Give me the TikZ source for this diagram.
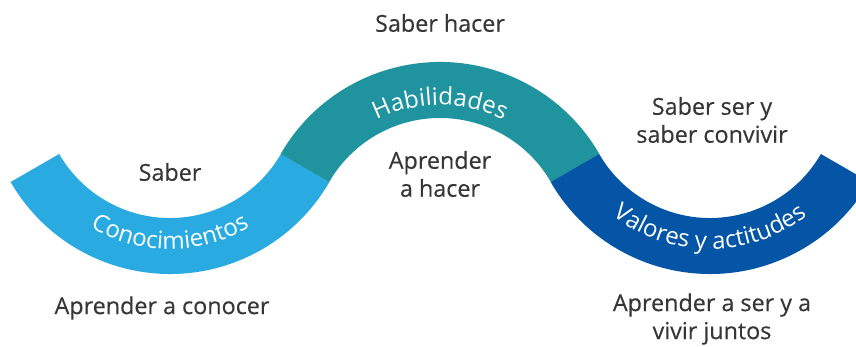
\documentclass[tikz,border=0pt]{standalone}
\usepackage{fontspec}
\setmainfont{Open Sans}
\newfontfamily\medfam[FakeBold=0.35]{Open Sans}
\usetikzlibrary{decorations.text,calc}
\definecolor{cblue}{HTML}{29ABE2}
\definecolor{cteal}{HTML}{1F939E}
\definecolor{cdark}{HTML}{0455A6}
\definecolor{ctext}{HTML}{363636}
\newcommand{\darkfont}{\medfam\fontsize{17.5pt}{21pt}\selectfont}
\newcommand{\arcfont}{\fontsize{18pt}{20pt}\selectfont}
\tikzset{
  lbl/.style={text=ctext, font=\darkfont, align=center, inner sep=0pt},
  arctext/.style={decorate, decoration={text along path, text align=center,
     text color=white, text={#1}}}
}
\begin{document}
\begin{tikzpicture}[x=0.75pt,y=0.75pt]
\useasboundingbox (0,0) rectangle (856,346);
\clip (0,0) rectangle (856,346);
% centres (y measured upwards)
\coordinate (c1) at (170,256);
\coordinate (c2) at (440,100);
\coordinate (c3) at (710,256);
% bands
\fill[cblue] ($(c1)+(210:184)$) arc[start angle=210,end angle=330,radius=184]
  -- ($(c1)+(330:128)$) arc[start angle=330,end angle=210,radius=128] -- cycle;
\fill[cteal] ($(c2)+(150:184)$) arc[start angle=150,end angle=30,radius=184]
  -- ($(c2)+(30:128)$) arc[start angle=30,end angle=150,radius=128] -- cycle;
\fill[cdark] ($(c3)+(210:184)$) arc[start angle=210,end angle=330,radius=184]
  -- ($(c3)+(330:128)$) arc[start angle=330,end angle=210,radius=128] -- cycle;
% curved labels
\path[arctext={|\arcfont|Conocimientos}] ($(c1)+(200:159)$) arc[start angle=200,end angle=340,radius=159];
\path[arctext={|\arcfont|Habilidades}] ($(c2)+(160:141)$) arc[start angle=160,end angle=20,radius=141];
\path[arctext={|\arcfont|Valores y actitudes}] ($(c3)+(200:159)$) arc[start angle=200,end angle=340,radius=159];
% dark labels
\node[lbl] (sh) at (440,323) {Saber hacer};
\node[lbl] (sa) at (170,174) {Saber};
\node[lbl] (ah) at (440,172) {Aprender\\a hacer};
\node[lbl] (ss) at (712,226) {Saber ser y\\saber convivir};
\node[lbl] (ac) at (162,38) {Aprender a conocer};
\node[lbl] (as) at (712,27) {Aprender a ser y a\\vivir juntos};
\end{tikzpicture}
\end{document}
